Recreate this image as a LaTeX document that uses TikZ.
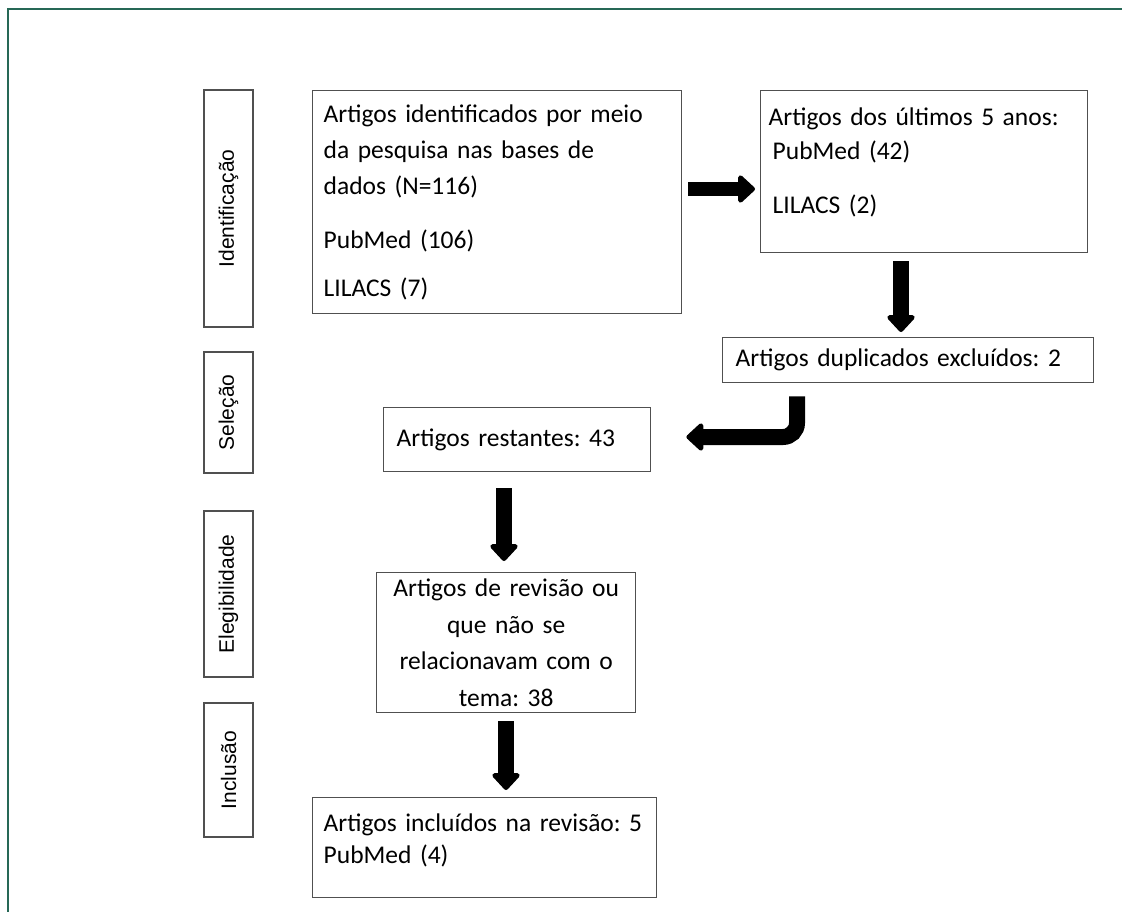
\documentclass[tikz,border=0pt]{standalone}
\usepackage{fontspec}
\setmainfont{Carlito}
\newfontfamily\stagefont{Liberation Sans}
\usetikzlibrary{arrows.meta,positioning}
\definecolor{framegreen}{RGB}{38,104,86}
\definecolor{boxgray}{RGB}{80,80,80}
\tikzset{
  stagebox/.style={draw=boxgray, line width=1.4pt, rotate=90, minimum height=49pt, inner sep=0pt, font=\stagefont\fontsize{21}{24}\selectfont},
  flowbox/.style={draw=boxgray, line width=1.4pt, anchor=north west, inner ysep=0pt, font=\frenchspacing\fontsize{25.5}{36}\selectfont},
  fatarrow/.style={line width=16pt, -{Triangle[length=18pt,width=32pt,round]}}
}
\begin{document}
\begin{tikzpicture}[x=1pt,y=-1pt]
  \useasboundingbox (0,0) rectangle (1122,912);

  % Frame
  \draw[framegreen, line width=2pt] (8,912) -- (8,9) -- (1122,9);

  % Stage labels
  \node[stagebox, minimum width=237pt] (ident) at (228.5,208.5) {Identificação};
  \node[stagebox, minimum width=121pt] (selec) at (228.5,412.5) {Seleção};
  \node[stagebox, minimum width=166pt] (eleg) at (228.5,594) {Elegibilidade};
  \node[stagebox, minimum width=134pt] (incl) at (228.5,770) {Inclusão};

  % Flow boxes
  \node[flowbox, minimum width=369pt, minimum height=223pt, text width=347pt, inner xsep=11pt, align=left] (found) at (312,90)
    {Artigos identificados por meio\\ da pesquisa nas bases de\\ dados (N=116)\\[18pt] PubMed (106)\\[12pt] LILACS (7)};
  \node[flowbox, minimum width=327pt, minimum height=162pt, text width=311pt, inner xsep=8pt, align=left, font=\frenchspacing\fontsize{25.5}{34}\selectfont] (recent) at (760,90)
    {Artigos dos últimos 5 anos:\\ \hspace*{4pt}PubMed (42)\\[20pt] \hspace*{4pt}LILACS (2)\\[-12pt] \mbox{}};
  \node[flowbox, minimum width=371pt, minimum height=45pt, text width=345pt, inner xsep=13pt, align=left] (dup) at (722,337)
    {Artigos duplicados excluídos: 2};
  \node[flowbox, minimum width=267pt, minimum height=64pt, text width=241pt, inner xsep=13pt, align=left] (remain) at (383,407)
    {Artigos restantes: 43};
  \node[flowbox, minimum width=259pt, minimum height=140pt, text width=245pt, inner xsep=7pt, align=center, font=\frenchspacing\fontsize{25.5}{36.7}\selectfont] (review) at (376,572)
    {Artigos de revisão ou\\ que não se\\ relacionavam com o\\ tema: 38};
  \node[flowbox, minimum width=344pt, minimum height=100pt, text width=328pt, inner xsep=8pt, align=left, font=\frenchspacing\fontsize{25.5}{32}\selectfont] (final) at (312,797)
    {\hspace*{3pt}Artigos incluídos na revisão: 5\\ \hspace*{3pt}PubMed (4)\\[-14pt] \mbox{}};

  % Block arrows
  \draw[fatarrow, line width=14pt, shorten <=6pt, shorten >=5pt] (found.east |- 0,189) -- (recent.west |- 0,189);
  \draw[fatarrow, shorten <=8pt, shorten >=5pt] (recent.south -| 901,0) -- (dup.north -| 901,0);
  \draw[fatarrow, rounded corners=14pt, shorten <=13pt, shorten >=35pt] (dup.south -| 797,0) -- (797,437) -- (remain.east |- 0,437);
  \draw[fatarrow, shorten <=16pt, shorten >=11pt] (remain.south -| 504,0) -- (review.north -| 504,0);
  \draw[fatarrow, shorten <=8pt, shorten >=7pt] (review.south -| 506,0) -- (final.north -| 506,0);
\end{tikzpicture}
\end{document}
